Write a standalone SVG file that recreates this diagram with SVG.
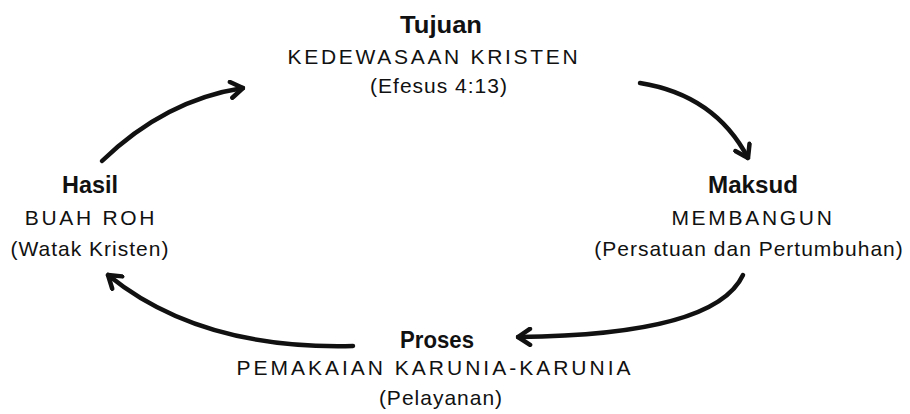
<svg xmlns="http://www.w3.org/2000/svg" width="910" height="414" viewBox="0 0 910 414">
  <style>
    text { font-family: "Liberation Sans", Arial, sans-serif; fill: #111; text-anchor: middle; }
    .title { font-weight: bold; font-size: 24px; }
    .caps { font-size: 21px; letter-spacing: 2.7px; }
    .paren { font-size: 21px; letter-spacing: 1px; }
    .conn { fill: none; stroke: #111; stroke-width: 4.5; stroke-linecap: round; stroke-linejoin: round; }
  </style>
  <defs>
    <marker id="arrow" viewBox="-16 -10 18 20" markerWidth="18" markerHeight="20" refX="0" refY="0" orient="auto" markerUnits="userSpaceOnUse">
      <path d="M-12,-8 L0,0 L-12,8" fill="none" stroke="#111" stroke-width="4.5" stroke-linecap="round" stroke-linejoin="round"/>
    </marker>
  </defs>
  <rect width="910" height="414" fill="#fff"/>

  <g id="connectors">
    <path class="conn" d="M102,161 Q165,100 243,88" marker-end="url(#arrow)"/>
    <path class="conn" d="M640,83 Q715,95 748,158" marker-end="url(#arrow)"/>
    <path class="conn" d="M743,275 Q715,335 518,337" marker-end="url(#arrow)"/>
    <path class="conn" d="M353,346 Q200,350 108,275" marker-end="url(#arrow)"/>
  </g>

  <g id="tujuan">
    <text class="title" x="441" y="33" textLength="82" lengthAdjust="spacingAndGlyphs">Tujuan</text>
    <text class="caps" x="434" y="64">KEDEWASAAN  KRISTEN</text>
    <text class="paren" x="439" y="93">(Efesus 4:13)</text>
  </g>

  <g id="maksud">
    <text class="title" x="753" y="193" textLength="90" lengthAdjust="spacingAndGlyphs">Maksud</text>
    <text class="caps" x="753" y="225">MEMBANGUN</text>
    <text class="paren" x="749" y="256">(Persatuan dan Pertumbuhan)</text>
  </g>

  <g id="proses">
    <text class="title" x="437" y="348" textLength="74" lengthAdjust="spacingAndGlyphs">Proses</text>
    <text class="caps" x="435" y="375" style="letter-spacing:3px">PEMAKAIAN  KARUNIA-KARUNIA</text>
    <text class="paren" x="441" y="405">(Pelayanan)</text>
  </g>

  <g id="hasil">
    <text class="title" x="90" y="193" textLength="56" lengthAdjust="spacingAndGlyphs">Hasil</text>
    <text class="caps" x="91" y="225">BUAH  ROH</text>
    <text class="paren" x="90" y="256">(Watak Kristen)</text>
  </g>
</svg>
